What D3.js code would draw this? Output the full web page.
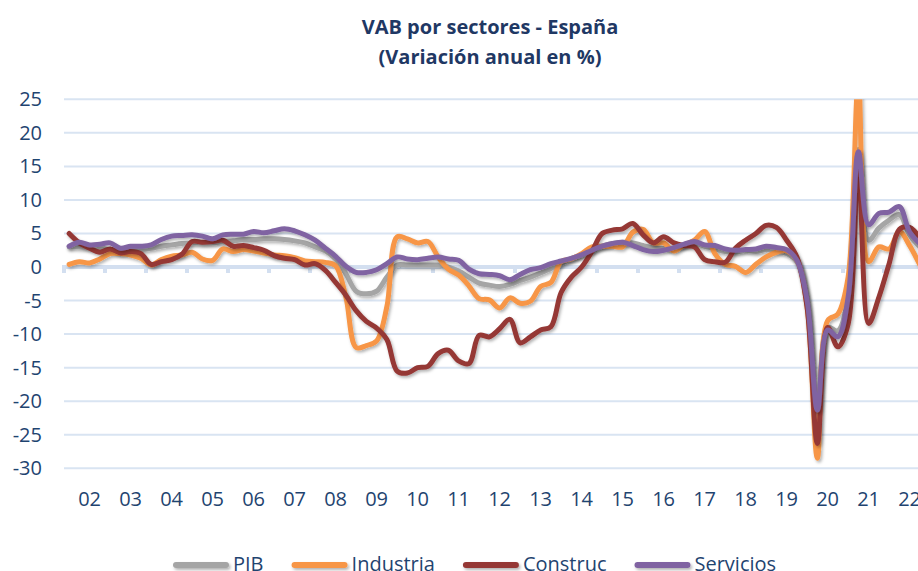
<!DOCTYPE html>
<html>
<head>
<meta charset="utf-8">
<script src="https://cdn.jsdelivr.net/npm/d3@7"></script>
<style>
    body { margin: 0; background: #fff; }
    svg { display: block; font-family: "Open Sans", "DejaVu Sans", sans-serif; }
</style>
</head>
<body>
<svg id="chart" width="918" height="571"></svg>
<script>
// years shown on the category axis (4 quarters each, 2002Q1 .. 2022Q4)
var years = ["02","03","04","05","06","07","08","09","10","11","12","13","14","15","16","17","18","19","20","21","22"];
var yTicks = [-30, -25, -20, -15, -10, -5, 0, 5, 10, 15, 20, 25];

var pib = [3.0,3.0,2.9,2.8, 2.6,2.4,2.6,2.6, 2.8,3.1,3.3,3.5, 3.6,3.6,3.6,3.8,
    3.9,4.1,4.1,4.2, 4.2,4.1,3.9,3.6, 3.0,2.4,1.2,-1.0, -3.6,-4.0,-3.6,-1.5,
    0.3,0.3,0.3,0.3, 0.3,0.0,-0.6,-1.5, -2.4,-2.7,-2.9,-2.6, -2.0,-1.5,-0.9,-0.2,
    0.5,1.3,1.8,2.4, 3.1,3.5,3.7,3.6, 3.2,2.9,2.8,2.8, 3.2,3.5,3.1,2.7,
    2.3,2.2,2.5,2.3, 2.6,2.4,2.0,0.8, -4.5,-21.5,-9.0,-9.5, -4.5,17.5,4.0,5.8,
    7.0,7.8,4.8,3.0];
var industria = [0.4,0.8,0.6,1.2, 2.0,2.0,1.8,1.3, 0.3,1.1,1.6,1.8, 2.2,1.2,1.0,2.7,
    2.3,2.6,2.4,2.1, 1.8,1.7,1.4,0.9, 0.8,0.7,0.2,-4.5, -12.0,-11.7,-11.0,-5.9,
    4.5,4.2,3.6,3.8, 1.5,-0.3,-1.2,-2.8, -4.7,-4.9,-6.1,-4.6, -5.4,-5.1,-2.9,-2.3,
    0.8,1.2,2.0,3.0, 3.1,3.1,3.0,5.2, 5.6,3.6,3.6,2.4, 3.3,4.0,5.3,2.0,
    0.4,0.1,-0.8,0.4, 1.5,2.2,2.4,1.0, -6.0,-28.5,-8.0,-7.0, -1.5,27.5,0.8,3.0,
    2.7,5.3,3.2,0.3];
var construc = [5.0,3.6,2.8,2.2, 2.7,2.1,2.3,2.0, 0.4,0.8,1.1,1.9, 3.8,3.7,3.8,4.0,
    3.1,3.2,2.9,2.5, 1.7,1.3,1.1,0.3, 0.5,-0.5,-2.3,-4.2, -6.5,-8.1,-9.1,-10.8,
    -15.5,-15.8,-15.0,-14.8, -12.9,-12.4,-14.0,-14.4, -10.2,-10.4,-9.2,-7.8, -11.3,-10.4,-9.4,-8.9,
    -3.8,-1.5,0.0,2.3, 5.0,5.5,5.7,6.5, 4.8,3.6,4.5,3.6, 3.2,3.0,1.1,0.8,
    0.7,2.8,4.0,5.0, 6.2,5.9,4.0,1.5, -6.0,-26.3,-9.0,-11.9, -8.5,15.0,-8.4,-4.5,
    0.5,5.6,5.9,4.3];
var servicios = [3.1,3.7,3.3,3.4, 3.6,2.8,3.1,3.1, 3.3,4.1,4.6,4.7, 4.8,4.6,4.2,4.8,
    4.9,4.9,5.3,5.1, 5.4,5.7,5.4,4.8, 4.0,2.8,1.6,0.1, -0.8,-0.8,-0.4,0.5,
    1.5,1.2,1.1,1.3, 1.5,1.2,1.0,-0.3, -1.0,-1.1,-1.3,-1.9, -1.1,-0.4,-0.1,0.5,
    0.9,1.3,1.8,2.5, 3.1,3.5,3.7,3.2, 2.6,2.3,2.5,2.9, 3.4,3.8,3.3,3.2,
    2.7,2.5,2.6,2.7, 3.1,2.9,2.6,1.0, -5.0,-21.3,-9.4,-10.4, -4.5,17.2,6.3,8.0,
    8.2,9.0,5.2,3.5];

var series = [
    {name: "PIB", values: pib, color: "#a5a5a5"},
    {name: "Industria", values: industria, color: "#f79646"},
    {name: "Construc", values: construc, color: "#953735"},
    {name: "Servicios", values: servicios, color: "#8064a2"}
];

var svg = d3.select("svg#chart");
var margin = {top: 99.3, left: 64};
var plotRight = 64 + years.length * 41;     // the plot runs past the picture's edge
var plotBottom = 468.3;

var x = d3.scaleBand()
    .domain(d3.range(pib.length))
    .range([margin.left, plotRight]);

var y = d3.scaleLinear()
    .domain([-30, 25])
    .range([plotBottom, margin.top]);

var defs = svg.append("defs");
var shadow = defs.append("filter").attr("id", "shadow")
    .attr("filterUnits", "userSpaceOnUse")
    .attr("x", 0).attr("y", 0).attr("width", 918).attr("height", 571);
shadow.append("feDropShadow")
    .attr("dx", 1.5).attr("dy", 2).attr("stdDeviation", 1.5)
    .attr("flood-color", "#000").attr("flood-opacity", 0.3);

defs.append("clipPath").attr("id", "plot")
    .append("rect")
    .attr("x", margin.left - 10)
    .attr("y", y(25))
    .attr("width", plotRight - margin.left + 20)
    .attr("height", plotBottom - y(25) + 20);

// horizontal gridlines
svg.append("g")
    .selectAll("line")
    .data(yTicks.filter(function(d) { return d !== 0; }))
    .enter().append("line")
    .attr("x1", margin.left)
    .attr("x2", plotRight)
    .attr("y1", function(d) { return y(d); })
    .attr("y2", function(d) { return y(d); })
    .attr("stroke", "#d9e4f2")
    .attr("stroke-width", 2);

// y labels
svg.append("g")
    .selectAll("text")
    .data(yTicks)
    .enter().append("text")
    .attr("x", 42)
    .attr("y", function(d) { return y(d); })
    .attr("dy", "0.35em")
    .style("text-anchor", "end")
    .style("font-size", "20px")
    .style("fill", "#1f4470")
    .text(function(d) { return d; });

// category axis on the zero line
var yearEdges = d3.range(years.length + 1);
svg.append("g")
    .selectAll("line")
    .data(yearEdges)
    .enter().append("line")
    .attr("x1", function(k) { return k < years.length ? x(k * 4) : plotRight; })
    .attr("x2", function(k) { return k < years.length ? x(k * 4) : plotRight; })
    .attr("y1", y(0))
    .attr("y2", y(0) + 6)
    .attr("stroke", "#d3dff0")
    .attr("stroke-width", 4);

svg.append("line")
    .attr("x1", margin.left - 2)
    .attr("x2", plotRight)
    .attr("y1", y(0))
    .attr("y2", y(0))
    .attr("stroke", "#d3dff0")
    .attr("stroke-width", 4);

svg.append("g")
    .selectAll("text")
    .data(years)
    .enter().append("text")
    .attr("x", function(d, k) { return x(k * 4 + 2) + x.bandwidth() / 2; })
    .attr("y", 499)
    .attr("dy", "0.35em")
    .style("text-anchor", "middle")
    .style("font-size", "20px")
    .style("fill", "#1f4470")
    .text(function(d) { return d; });

// series lines
var line = d3.line()
    .x(function(d, i) { return x(i) + x.bandwidth() / 2; })
    .y(function(d) { return y(d); })
    .curve(d3.curveCatmullRom.alpha(0.5));

var lines = svg.append("g")
    .attr("clip-path", "url(#plot)");

lines.selectAll("path")
    .data(series)
    .enter().append("path")
    .attr("d", function(s) { return line(s.values); })
    .attr("fill", "none")
    .attr("stroke", function(s) { return s.color; })
    .attr("stroke-width", 5)
    .attr("stroke-linejoin", "round")
    .attr("stroke-linecap", "round")
    .attr("filter", "url(#shadow)");

// title
svg.append("text")
    .attr("x", 490)
    .attr("y", 34)
    .style("text-anchor", "middle")
    .style("font-size", "20px")
    .style("font-weight", "bold")
    .style("fill", "#1f3864")
    .text("VAB por sectores - España");

svg.append("text")
    .attr("x", 490)
    .attr("y", 64)
    .style("text-anchor", "middle")
    .style("font-size", "20px")
    .style("font-weight", "bold")
    .style("fill", "#1f3864")
    .text("(Variación anual en %)");

// legend
var legend = svg.append("g");
var lx = 173;
series.forEach(function(s) {
    legend.append("line")
        .attr("x1", lx + 3)
        .attr("x2", lx + 53)
        .attr("y1", 565)
        .attr("y2", 565)
        .attr("stroke", s.color)
        .attr("stroke-width", 6)
        .attr("stroke-linecap", "round")
        .attr("filter", "url(#shadow)");
    var t = legend.append("text")
        .attr("x", lx + 60)
        .attr("y", 571)
        .style("font-size", "20px")
        .style("fill", "#1f4470")
        .text(s.name);
    lx = lx + 60 + t.node().getComputedTextLength() + 28;
});
</script>
</body>
</html>
